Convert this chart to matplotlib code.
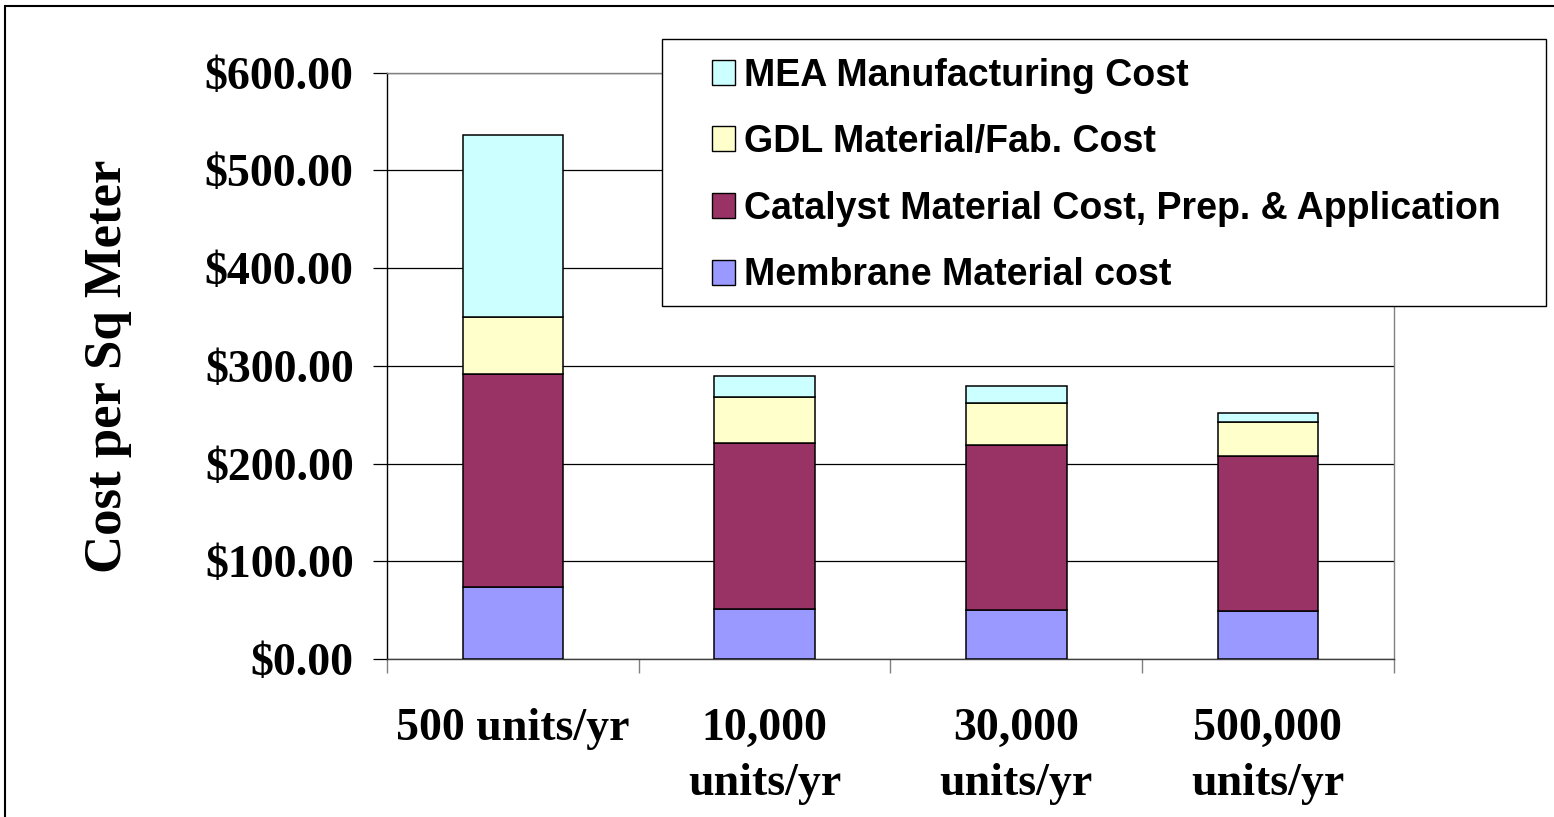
import matplotlib
matplotlib.use("Agg")
import matplotlib.pyplot as plt
from matplotlib.patches import Rectangle
from matplotlib.ticker import FixedLocator, FuncFormatter
import numpy as np

categories = ["500 units/yr", "10,000\nunits/yr", "30,000\nunits/yr", "500,000\nunits/yr"]
membrane = [73.7, 51.5, 50.5, 49.5]
catalyst = [218.1, 170.0, 168.3, 158.0]
gdl = [57.7, 46.8, 43.6, 35.5]
mea = [186.7, 21.5, 17.1, 8.5]
series_names = ["Membrane Material cost",
                "Catalyst Material Cost, Prep. & Application",
                "GDL Material/Fab. Cost",
                "MEA Manufacturing Cost"]
series_colors = ["#9999FF", "#993366", "#FFFFCC", "#CCFFFF"]
yticks = [0, 100, 200, 300, 400, 500, 600]

W, H = 1554, 817
fig = plt.figure(figsize=(W / 100, H / 100), dpi=100)
ax = fig.add_axes([387 / W, 1 - 659 / H, (1393.7 - 387) / W, (659 - 72.7) / H])

x = np.arange(len(categories))
bottom = np.zeros(len(categories))
handles = []
for vals, name, col in zip([membrane, catalyst, gdl, mea], series_names, series_colors):
    b = ax.bar(x, vals, width=0.4, bottom=bottom, color=col, edgecolor="black",
               linewidth=1.1, label=name, zorder=3)
    handles.append(b)
    bottom += np.array(vals)

ax.set_xlim(-0.5, len(categories) - 0.5)
ax.set_ylim(0, 600)

ax.set_yticks(yticks)
ax.yaxis.set_major_formatter(FuncFormatter(lambda v, p: f"${v:,.2f}"))
ax.grid(axis="y", color="black", linewidth=0.9, zorder=1)
ax.set_axisbelow(True)

serif = "Liberation Serif"
sans = "Liberation Sans"
ax.tick_params(axis="y", direction="out", length=10, width=0.9, color="black", pad=14,
               labelsize=33)
for lab in ax.get_yticklabels():
    lab.set_fontfamily(serif)
    lab.set_fontweight("bold")

ax.set_xticks(x)
ax.set_xticklabels(categories, fontfamily=serif, fontweight="bold", fontsize=33,
                   linespacing=1.42)
ax.tick_params(axis="x", which="major", length=0, pad=35)
ax.xaxis.set_minor_locator(FixedLocator(np.arange(-0.5, len(categories), 1.0)))
ax.tick_params(axis="x", which="minor", length=10, width=1.0, color="#808080", direction="out")

for s in ["top", "right"]:
    ax.spines[s].set_color("#808080")
    ax.spines[s].set_linewidth(1.0)
ax.spines["left"].set_color("black")
ax.spines["left"].set_linewidth(1.0)
ax.spines["bottom"].set_color("#404040")
ax.spines["bottom"].set_linewidth(1.0)

fig.text(108 / W, 1 - 366 / H, "Cost per Sq Meter", rotation=90, ha="center", va="center",
         fontfamily=serif, fontweight="bold", fontsize=38)

# legend frame box
ax.add_patch(Rectangle((662 / W, 1 - 306 / H), (1546 - 662) / W, (306 - 39) / H,
                       transform=fig.transFigure, clip_on=False, facecolor="white",
                       edgecolor="black", linewidth=1.0, zorder=5))

leg = ax.legend(handles[::-1], series_names[::-1],
                loc="upper left",
                bbox_to_anchor=(712 / W, 1 - 57.5 / H),
                bbox_transform=fig.transFigure,
                prop={"family": sans, "weight": "bold", "size": 27},
                frameon=False,
                handlelength=0.62, handleheight=0.65, handletextpad=0.22,
                labelspacing=0.815, borderpad=0.0, borderaxespad=0)
leg.set_zorder(6)
for h in leg.legend_handles:
    h.set_linewidth(1.0)

# outer chart border (top and left visible)
fig.patches.append(Rectangle((5 / W, -0.2), 1.2, 0.2 + (1 - 6 / H), transform=fig.transFigure,
                             fill=False, edgecolor="black", linewidth=1.5))

fig.savefig("out.png", dpi=100)
